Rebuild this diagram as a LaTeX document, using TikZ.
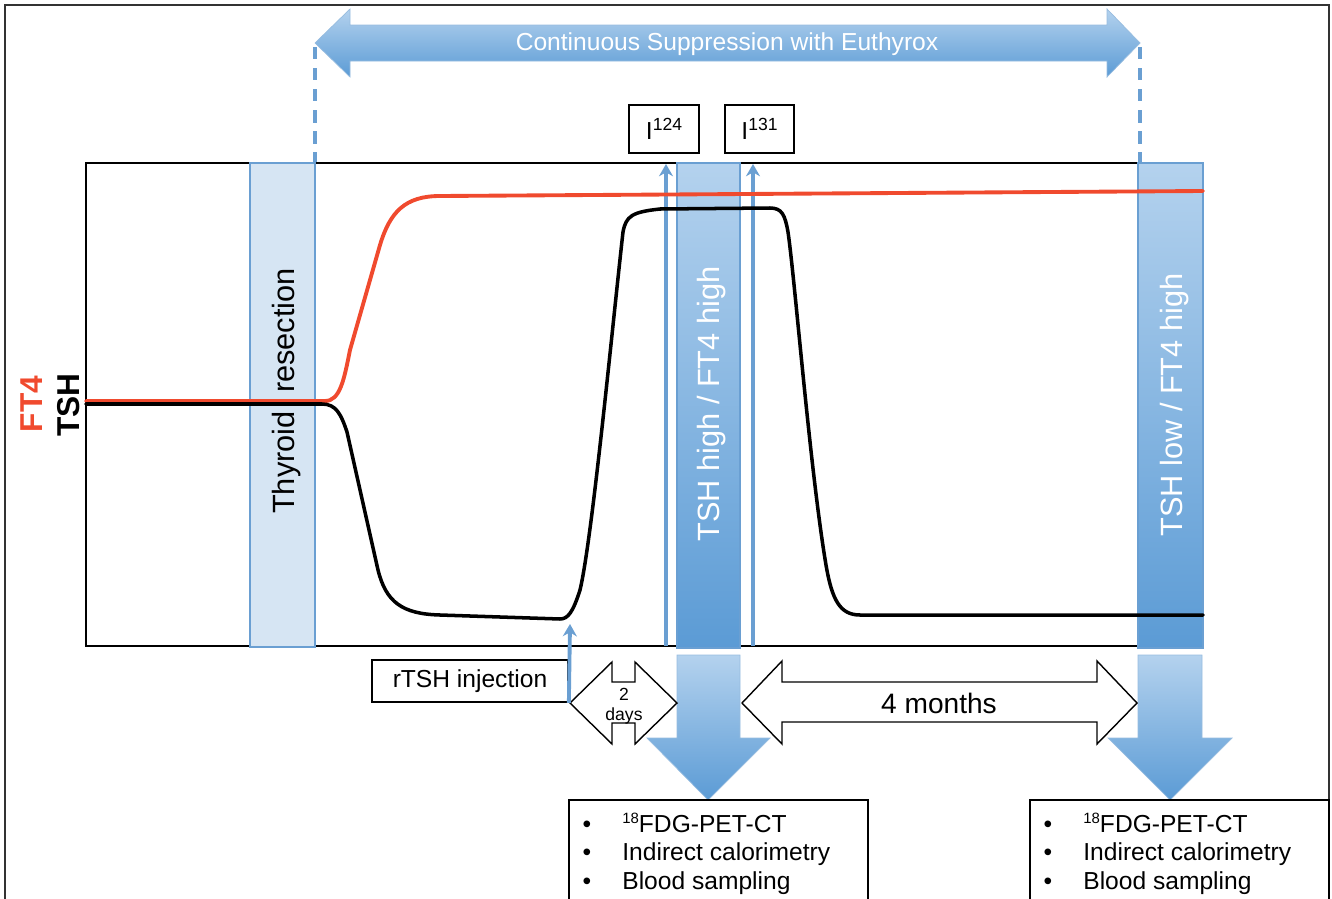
\documentclass[tikz,border=0pt]{standalone}
\usepackage{fontspec}
\setmainfont{Liberation Sans}
\usepackage{tikz}
\usetikzlibrary{arrows.meta,positioning,calc}

\definecolor{bandline}{HTML}{6A9FD2}
\definecolor{bandfill}{HTML}{D6E5F3}
\definecolor{bluetop}{HTML}{B4D2EE}
\definecolor{bluebot}{HTML}{5B9BD5}
\definecolor{ftred}{HTML}{F04A2E}

\tikzset{
  band/.style={draw=bandline, line width=0.8pt},
  bigarrow/.style={draw=bandline!70, line width=0.4pt, top color=bluetop, bottom color=bluebot},
  hollowarrow/.style={draw=black, line width=0.8pt, fill=white},
  infobox/.style={draw=black, line width=1pt, fill=white},
  ticker/.style={draw=bandline, line width=2.2pt, -{Stealth[length=7pt,width=8pt]}},
  curve/.style={line width=2pt, line join=round, line cap=round},
  bandtext/.style={text=white, font=\fontsize{17.5}{20}\selectfont, rotate=90},
}

\begin{document}
\begin{tikzpicture}[x=0.02cm, y=-0.02cm]
    \clip (0,0) rectangle (1332,899);
    % Frame
    \draw[line width=0.8pt, black!80] (5,930) -- (5,5) -- (1329,5) -- (1329,930);

    % Suppression arrow
    \draw[bigarrow] (315,43) -- (350,9) -- (350,25) -- (1107,25) -- (1107,9) -- (1140,43)
        -- (1107,77) -- (1107,61) -- (350,61) -- (350,77) -- cycle;
    \node[text=white, font=\fontsize{14}{17}\selectfont] (euthyrox) at (727,44) {Continuous Suppression with Euthyrox};
    \draw[bandline, line width=2pt, dash pattern=on 7pt off 5pt] (315,47) -- (315,163);
    \draw[bandline, line width=2pt, dash pattern=on 7pt off 5pt] (1140,47) -- (1140,163);

    % Axes
    \draw[line width=1.1pt] (86,163) rectangle (1140,646);

    % Bands
    \filldraw[band, fill=bandfill] (250,163) rectangle (315,647);
    \node[bandtext, text=black] (resection) at (287,391) {Thyroid\hspace{0.6em}resection};
    \draw[band, top color=bluetop, bottom color=bluebot] (677,163) rectangle (740,648);
    \node[bandtext] (tshhigh) at (712,404) {TSH high / FT4 high};
    \draw[band, top color=bluetop, bottom color=bluebot] (1138,163) rectangle (1203,648);
    \node[bandtext] (tshlow) at (1175,405) {TSH low / FT4 high};

    % Down arrows
    \draw[bigarrow] (677,655) -- (740,655) -- (740,738) -- (770,738) -- (708,800) -- (647,738) -- (677,738) -- cycle;
    \draw[bigarrow] (1138,655) -- (1202,655) -- (1202,738) -- (1232,738) -- (1170,800) -- (1108,738) -- (1138,738) -- cycle;

    % Time spans
    \draw[hollowarrow] (570,703) -- (612,662) -- (612,682) -- (635,682) -- (635,662) -- (677,703)
        -- (635,744) -- (635,723) -- (612,723) -- (612,744) -- cycle;
    \node[align=center, font=\fontsize{10}{11.5}\selectfont, inner sep=0pt] (twodays) at (624,706) {2\\days};
    \draw[hollowarrow] (742,703) -- (782,661) -- (782,682) -- (1097,682) -- (1097,661) -- (1137,703)
        -- (1097,744) -- (1097,722) -- (782,722) -- (782,744) -- cycle;
    \node[font=\fontsize{16}{19}\selectfont] (fourmonths) at (939,703) {4 months};

    % Labels
    \node[infobox, minimum width=3.92cm, minimum height=0.84cm, font=\fontsize{14}{17}\selectfont] (rtsh) at (470,681) {rTSH injection};
    \node[infobox, minimum width=1.4cm, minimum height=0.96cm, font=\fontsize{14}{17}\selectfont] (iodA) at (664,129)
        {I\raisebox{0.35em}{\fontsize{10}{12}\selectfont 124}};
    \node[infobox, minimum width=1.38cm, minimum height=0.96cm, font=\fontsize{14}{17}\selectfont] (iodB) at (759.5,129)
        {I\raisebox{0.35em}{\fontsize{10}{12}\selectfont 131}};

    % Injection and tracer arrows
    \coordinate (rtshtip) at (570,624);
    \coordinate (foot124) at (666,646);
    \coordinate (head124) at (666,164);
    \coordinate (foot131) at (753,646);
    \coordinate (head131) at (753,164);
    \draw[ticker] (rtsh.south east) -- (rtshtip);
    \draw[ticker] (foot124) -- (head124);
    \draw[ticker] (foot131) -- (head131);

    % FT4
    \draw[curve, ftred, line width=2.2pt] (86,401) -- (325,401)
        .. controls (340,401) and (344,380) .. (350,350) -- (380,245)
        .. controls (390,212) and (405,196) .. (440,196) -- (1203,191);
    % TSH
    \draw[curve] (86,404) -- (322,404)
        .. controls (336,404) and (341,414) .. (347,432) -- (378,570)
        .. controls (386,602) and (402,614) .. (440,615) -- (560,619)
        .. controls (568,619) and (573,612) .. (580,590)
        .. controls (592,540) and (612,330) .. (623,232)
        .. controls (626,216) and (632,212) .. (660,209) -- (770,208)
        .. controls (782,208) and (785,215) .. (788,232)
        .. controls (795,280) and (810,470) .. (826,565)
        .. controls (832,600) and (840,615) .. (860,615) -- (1203,615);

    \node[rotate=90, text=ftred, font=\bfseries\fontsize{18}{20}\selectfont] (ftlabel) at (32,404) {FT4};
    \node[rotate=90, font=\bfseries\fontsize{18}{20}\selectfont] (tshlabel) at (69,405) {TSH};

    % Measurements
    \foreach \bx/\nm in {569/petA, 1030/petB} {
        \draw[infobox] (\bx,800) rectangle ++(299,140);
        \node[anchor=base, font=\fontsize{14}{17}\selectfont] (\nm-b1) at (\bx+18,832) {\textbullet};
        \node[anchor=base, font=\fontsize{14}{17}\selectfont] (\nm-b2) at (\bx+18,860) {\textbullet};
        \node[anchor=base, font=\fontsize{14}{17}\selectfont] (\nm-b3) at (\bx+18,889) {\textbullet};
        \node[anchor=base west, inner sep=0pt, font=\fontsize{14}{17}\selectfont] (\nm-pet) at (\bx+53,832)
            {\raisebox{5pt}{\fontsize{8.5}{10}\selectfont 18}FDG-PET-CT};
        \node[anchor=base west, inner sep=0pt, font=\fontsize{14}{17}\selectfont] (\nm-cal) at (\bx+53,860) {Indirect calorimetry};
        \node[anchor=base west, inner sep=0pt, font=\fontsize{14}{17}\selectfont] (\nm-blood) at (\bx+53,889) {Blood sampling};
    }
\end{tikzpicture}
\end{document}
